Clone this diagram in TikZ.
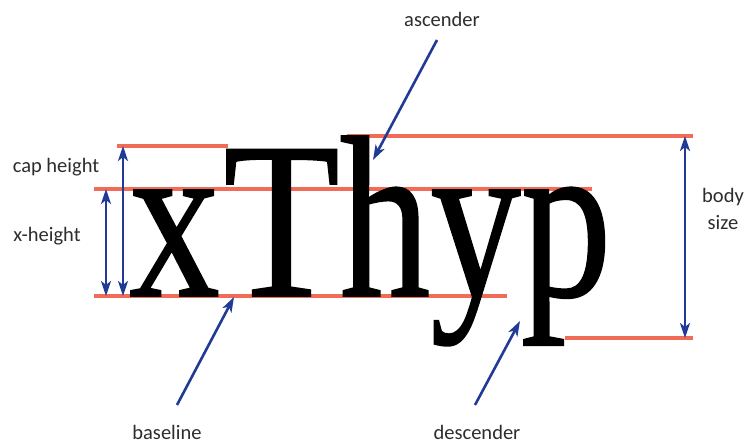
\documentclass[tikz,border=0pt]{standalone}
\usepackage{fontspec}
\usepackage{graphicx}
\setmainfont{Carlito}
\newfontfamily\bigserif[FakeBold=0.8]{Liberation Serif}
\usetikzlibrary{arrows.meta,calc}
\definecolor{linered}{RGB}{240,108,86}
\definecolor{arrowblue}{RGB}{32,58,150}
\definecolor{labelgray}{RGB}{45,45,45}
\begin{document}
\begin{tikzpicture}[x=1pt,y=-1pt,
  redline/.style={draw=linered, line width=3.2pt},
  dimarr/.style={draw=arrowblue, line width=2.6pt, {Stealth[length=15pt,width=10pt,inset=4pt]}-{Stealth[length=15pt,width=10pt,inset=4pt]}},
  ptr/.style={draw=arrowblue, line width=2.6pt, -{Stealth[length=15pt,width=10pt,inset=4pt]}},
  lbl/.style={font=\fontsize{20.5}{27}\selectfont, text=labelgray, inner sep=0pt, anchor=base, align=center}]
\useasboundingbox (0,0) rectangle (745,444);
% guide lines
\draw[redline] (117,146) -- (228,146);
\draw[redline] (94,189) -- (592,189);
\draw[redline] (94,296) -- (507,296);
\draw[redline] (347,136) -- (693,136);
\draw[redline] (565,338) -- (693,338);
% specimen word
\node[anchor=base west, inner sep=0pt] (word) at (129,296) {\resizebox{482pt}{160pt}{\bigserif x\kern0.02em\scalebox{1.05}[0.97]{T}hyp}};
% labels
\node[lbl] (cap) at (56,172) {cap height};
\node[lbl] (xh) at (47,241) {x-height};
\node[lbl] (asc) at (442,27) {ascender};
\node[lbl] (base) at (167,439) {baseline};
\node[lbl] (desc) at (477,439) {descender};
\node[lbl] (body) at (723,229) {body\\size};
% dimension coordinates
\coordinate (capT) at (123,146);
\coordinate (capB) at (123,296);
\coordinate (xhT) at (106,189);
\coordinate (xhB) at (106,296);
\coordinate (bodyT) at (685,136);
\coordinate (bodyB) at (685,338);
\draw[dimarr] (capT) -- (capB);
\draw[dimarr] (xhT) -- (xhB);
\draw[dimarr] (bodyT) -- (bodyB);
% pointer tips
\coordinate (ascT) at (373,160);
\coordinate (baseT) at (234,297);
\coordinate (descT) at (520,321);
\draw[ptr] ([shift={(-5,13)}]asc.base) -- (ascT);
\draw[ptr] ([shift={(10,-34)}]base.base) -- (baseT);
\draw[ptr] ([shift={(-2,-34)}]desc.base) -- (descT);
\end{tikzpicture}
\end{document}
